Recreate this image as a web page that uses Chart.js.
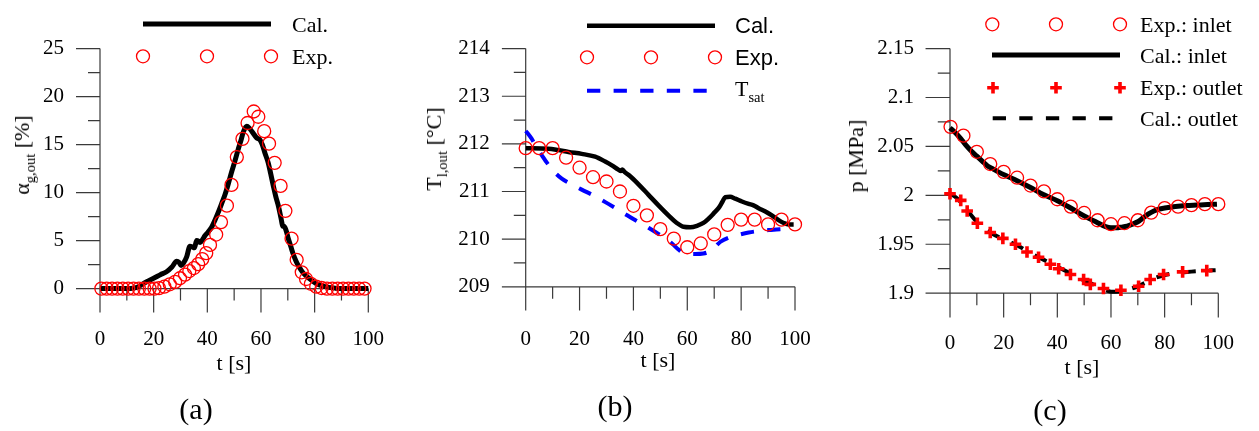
<!DOCTYPE html>
<html><head><meta charset="utf-8">
<script src="https://cdn.jsdelivr.net/npm/chart.js@4.4.1/dist/chart.umd.min.js"></script>
<style>
html,body{margin:0;padding:0;background:#fff;}
#wrap{position:relative;width:1259px;height:431px;overflow:hidden;background:#fff;}
canvas{position:absolute;top:0;}
.t{position:absolute;font-family:"Liberation Serif","Times New Roman",serif;color:#000;white-space:nowrap;line-height:1;font-size:22px;}
.c{transform:translate(-50%,-50%);}
.l{transform:translate(0,-50%);}
.r{transform:translate(-50%,-50%) rotate(-90deg);}
.sans{font-family:"Liberation Sans",Arial,sans-serif;}
.big{font-size:30px;}
.sb{font-size:0.66em;position:relative;top:0.4em;vertical-align:baseline;}
</style></head>
<body><div id="wrap">
<canvas id="ca" width="415" height="431" style="left:0px"></canvas>
<canvas id="cb" width="420" height="431" style="left:415px"></canvas>
<canvas id="cc" width="424" height="431" style="left:835px"></canvas>

<div class="t r" style="left:22px;top:155px">α<span class="sb">g,out</span> [%]</div>
<div class="t c" style="left:234px;top:363px">t [s]</div>
<div class="t c big" style="left:196px;top:409px">(a)</div>
<div class="t l" style="left:292px;top:25px">Cal.</div>
<div class="t l" style="left:292px;top:57px">Exp.</div>

<div class="t r" style="left:434px;top:149px">T<span class="sb">l,out</span> [°C]</div>
<div class="t c" style="left:658px;top:360px">t [s]</div>
<div class="t c big" style="left:615px;top:406px">(b)</div>
<div class="t l sans" style="left:735px;top:26px">Cal.</div>
<div class="t l sans" style="left:735px;top:58px">Exp.</div>
<div class="t l" style="left:735px;top:89px">T<span class="sb">sat</span></div>

<div class="t r" style="left:856px;top:156px">p [MPa]</div>
<div class="t c" style="left:1082px;top:367px">t [s]</div>
<div class="t c big" style="left:1050px;top:410px">(c)</div>
<div class="t l" style="left:1140px;top:25px">Exp.: inlet</div>
<div class="t l" style="left:1140px;top:56px">Cal.: inlet</div>
<div class="t l" style="left:1140px;top:88px">Exp.: outlet</div>
<div class="t l" style="left:1140px;top:119px">Cal.: outlet</div>
</div>
<script>
// ---------- shared x axis ----------
const tTicks = [0, 20, 40, 60, 80, 100];
const tTickLabels = ['0', '20', '40', '60', '80', '100'];
const tMinor = [10, 30, 50, 70, 90];

// ---------- panel (a): void fraction ----------
const aTicks = [0, 5, 10, 15, 20, 25];
const aTickLabels = ['0', '5', '10', '15', '20', '25'];
const aMinor = [2.5, 7.5, 12.5, 17.5, 22.5];
const aExpT = [0.5,2.5,4.5,6.5,8.5,10.5,12.5,14.5,16.5,18.5,20.3,22,24,26,28,29.8,31.7,33.3,35,36.6,38.1,39.6,41,43.3,45.1,47.3,49,51,53.1,55,57.3,59,61.2,63,65.1,67.3,69.1,71.4,73.3,75.2,76.8,78.6,80.6,82.6,84.6,86.6,88.6,90.6,92.6,94.6,96.6,98.6];
const aExpV = [0,0,0,0,0,0,0,0,0,0,0,0.05,0.2,0.45,0.7,1.08,1.46,1.83,2.14,2.55,3.07,3.7,4.55,5.63,6.93,8.64,10.8,13.7,15.6,17.25,18.45,17.9,16.4,15.1,13.1,10.7,8.1,5.2,3.0,1.7,1.0,0.5,0.2,0.06,0,0,0,0,0,0,0,0];
const aCalT = [0,5,10,12.5,14.3,16,18,20.5,22.5,24.8,26.8,28.6,29.4,30.2,31.2,32.3,33.5,34.4,35.2,36,36.7,37.3,38.2,39.1,40.3,41.6,42.8,44.1,45.4,46.6,47.8,49,50.3,51.5,52.5,53.4,54.7,55.7,56.8,58.4,59.6,60.5,61.5,62.7,63.6,64.6,65.5,66.5,67.2,67.7,68.1,68.6,69.2,70.2,71.1,72,73,73.9,75.8,78.3,80.7,83.9,87.6,90,100];
const aCalV = [0,0,0,0.05,0.2,0.5,0.8,1.15,1.45,1.75,2.25,2.85,2.75,2.4,2.7,3.3,4.4,4.35,4.25,5.0,4.95,4.8,5.1,5.5,5.9,6.4,7.1,7.96,8.9,9.8,10.9,12.1,13.3,14.5,15.4,16.3,16.9,16.7,16.3,15.7,15.5,15.0,14.1,13.1,12.0,10.7,9.6,8.6,7.7,7.0,6.5,6.5,6.2,5.2,4.4,3.6,2.9,2.4,1.6,1.0,0.5,0.2,0.05,0,0];

// ---------- panel (b): outlet liquid temperature ----------
const bTicks = [209, 210, 211, 212, 213, 214];
const bTickLabels = ['209', '210', '211', '212', '213', '214'];
const bMinor = [209.5, 210.5, 211.5, 212.5, 213.5];
const bExpT = [0,5,10,15,20,25,30,35,40,45,50,55,60,65,70,75,80,85,90,95,100];
const bExpV = [211.91,211.91,211.91,211.71,211.50,211.30,211.21,211.00,210.70,210.50,210.21,210.01,209.83,209.91,210.10,210.30,210.41,210.41,210.31,210.41,210.31];
const bCalT = [0,8.4,12.1,15.9,20.8,25.8,29.5,32,34.4,35.4,35.9,36.9,38.8,41.9,45.6,49.3,53,56.1,58.6,61.1,63.6,66,67.9,69.8,71.6,73.1,74.1,75.9,77.8,80.3,82.8,84.6,86.5,89,91.4,93.9,95.8,97.6,99.5];
const bCalV = [211.91,211.90,211.87,211.83,211.79,211.73,211.63,211.55,211.46,211.43,211.46,211.40,211.32,211.15,210.93,210.71,210.50,210.34,210.26,210.25,210.28,210.34,210.43,210.54,210.65,210.79,210.88,210.89,210.85,210.79,210.74,210.71,210.65,210.58,210.50,210.40,210.34,210.31,210.31];
const bSatT = [0,0.8,2.2,4.1,5.9,7.8,10.3,13.4,17.1,20.8,25.8,30.7,35.7,40.6,45.6,50.6,54.3,56.8,59.2,62.9,66,68.5,70.4,72.2,75.3,79,82.8,86.5,90.2,94.5,99.5];
const bSatV = [212.27,212.22,212.11,211.92,211.77,211.61,211.43,211.27,211.15,211.04,210.90,210.74,210.57,210.40,210.24,210.06,209.91,209.78,209.70,209.69,209.70,209.75,209.84,209.94,210.03,210.09,210.14,210.17,210.19,210.21,210.22];

// ---------- panel (c): pressure ----------
const cTicks = [1.9, 1.95, 2.0, 2.05, 2.1, 2.15];
const cTickLabels = ['1.9', '1.95', '2', '2.05', '2.1', '2.15'];
const cMinor = [1.925, 1.975, 2.025, 2.075, 2.125];
const cInExpT = [0.2,5,10,15,20,25,30,35,40,45,50,55,60,65,70,75,80,85,90,95,100];
const cInExpV = [2.070,2.061,2.0445,2.032,2.024,2.018,2.010,2.004,1.996,1.9885,1.982,1.9745,1.9705,1.9715,1.9745,1.9823,1.987,1.9885,1.990,1.991,1.991];
const cInCalT = [0,2,4,6,8,10,12,14,16,18,21,25,30,35,40,45,50,55,58,60,62,64,66,68,70,72,74,76,78,80,84,88,92,96,99.5];
const cInCalV = [2.069,2.064,2.058,2.051,2.045,2.040,2.035,2.030,2.027,2.024,2.020,2.015,2.008,2.0005,1.9945,1.987,1.979,1.972,1.968,1.9668,1.9668,1.9675,1.9685,1.9705,1.973,1.977,1.981,1.984,1.986,1.987,1.9885,1.9895,1.990,1.9905,1.991];
const cOutExpT = [0,4,6.4,10.2,15,19.7,24.4,28.7,33,37.4,40.5,44.9,49.8,52.3,57.2,63.7,70.3,74.6,79.6,86.7,95.7];
const cOutExpV = [2.0016,1.9948,1.984,1.9714,1.962,1.956,1.950,1.942,1.9367,1.9295,1.925,1.919,1.914,1.909,1.9047,1.903,1.907,1.914,1.919,1.9217,1.923];
const cOutCalT = [0,3,6,9,12,15,20,25,30,35,40,45,50,55,58,60,62,65,68,70,73,76,80,85,90,95,99];
const cOutCalV = [2.002,1.996,1.986,1.976,1.968,1.962,1.955,1.949,1.941,1.934,1.927,1.920,1.913,1.907,1.903,1.9015,1.9015,1.9025,1.905,1.907,1.911,1.915,1.9185,1.921,1.922,1.923,1.9235];

// ---------- helpers ----------
const RED = '#ff0000', BLUE = '#0000ff', BLACK = '#000000', AXIS = '#3a3a3a';
const SERIF = '"Liberation Serif","Times New Roman",serif';
const YW = 95, XH = 50;
const pts = (xs, ys) => xs.map((x, i) => ({x: x, y: ys[i]}));

function circles(data) {
  return {data, showLine:false, pointStyle:'circle', pointRadius:6.5, pointBorderWidth:1.3,
    pointBorderColor:RED, pointBackgroundColor:'rgba(0,0,0,0)', borderColor:RED,
    backgroundColor:'rgba(0,0,0,0)', order:0, clip:false};
}
function crosses(data) {
  return {data, showLine:false, pointStyle:'cross', pointRadius:5.8, pointBorderWidth:3.6,
    pointBorderColor:RED, pointBackgroundColor:RED, borderColor:RED, backgroundColor:RED, order:0, clip:false};
}
function line(data, color, width, dash) {
  return {data, showLine:true, pointRadius:0, borderColor:color, borderWidth:width,
    borderDash: dash || [], cubicInterpolationMode:'monotone', borderCapStyle:'butt',
    borderJoinStyle:'round', backgroundColor:'rgba(0,0,0,0)', fill:false, order:1, clip:false};
}

function axesPlugin(cfg) {
  return {
    id: 'customAxes',
    beforeDatasetsDraw(chart) {
      const ctx = chart.ctx, xs = chart.scales.x, ys = chart.scales.y, ca = chart.chartArea;
      const x0 = xs.getPixelForValue(0), x1 = xs.getPixelForValue(100);
      const yb = ys.getPixelForValue(cfg.base);
      const majorLen = ca.bottom - yb, minorLen = majorLen / 2;
      ctx.save();
      ctx.strokeStyle = AXIS; ctx.lineWidth = 1.2; ctx.setLineDash([]);
      ctx.beginPath();
      ctx.moveTo(x0, ca.top); ctx.lineTo(x0, ca.bottom);
      ctx.moveTo(x0, yb); ctx.lineTo(x1, yb);
      cfg.yMajor.forEach(v => { const y = ys.getPixelForValue(v); ctx.moveTo(x0 - majorLen, y); ctx.lineTo(x0, y); });
      cfg.yMinor.forEach(v => { const y = ys.getPixelForValue(v); ctx.moveTo(x0 - minorLen, y); ctx.lineTo(x0, y); });
      tTicks.forEach(v => { const x = xs.getPixelForValue(v); ctx.moveTo(x, yb); ctx.lineTo(x, yb + majorLen); });
      tMinor.forEach(v => { const x = xs.getPixelForValue(v); ctx.moveTo(x, yb); ctx.lineTo(x, yb + minorLen); });
      ctx.stroke();
      ctx.restore();
    },
    afterDatasetsDraw(chart) {
      const ctx = chart.ctx;
      ctx.save();
      cfg.legend.forEach(item => {
        const ds = chart.data.datasets[item.ds];
        if (item.kind === 'line') {
          ctx.strokeStyle = ds.borderColor; ctx.lineWidth = ds.borderWidth;
          ctx.setLineDash(ds.borderDash || []); ctx.lineCap = 'butt';
          ctx.beginPath(); ctx.moveTo(item.x0, item.y); ctx.lineTo(item.x1, item.y); ctx.stroke();
        } else {
          ctx.setLineDash([]);
          ctx.strokeStyle = ds.pointBorderColor; ctx.lineWidth = ds.pointBorderWidth;
          item.xs.forEach(x => {
            const r = ds.pointRadius;
            ctx.beginPath();
            if (ds.pointStyle === 'cross') {
              ctx.moveTo(x - r, item.y); ctx.lineTo(x + r, item.y);
              ctx.moveTo(x, item.y - r); ctx.lineTo(x, item.y + r);
            } else {
              ctx.arc(x, item.y, r, 0, Math.PI * 2);
            }
            ctx.stroke();
          });
        }
      });
      ctx.restore();
    }
  };
}

function makeChart(id, datasets, cfg) {
  const pad = {left: cfg.area.left - YW, right: cfg.w - cfg.area.right, top: cfg.area.top, bottom: 431 - cfg.area.bottom - XH};
  return new Chart(document.getElementById(id), {
    type: 'scatter',
    data: {datasets},
    options: {
      responsive: false, animation: false, events: [],
      layout: {padding: pad},
      plugins: {legend: {display: false}, tooltip: {enabled: false}},
      scales: {
        x: {
          type: 'linear', min: 0, max: 100,
          grid: {display: false, drawTicks: false}, border: {display: false},
          afterFit: s => { s.height = XH; },
          afterBuildTicks: s => { s.ticks = tTicks.map(v => ({value: v})); },
          ticks: {padding: cfg.xPad, color: '#000', autoSkip: false, maxRotation: 0,
            font: {family: SERIF, size: 21}, callback: (v, i) => tTickLabels[i]}
        },
        y: {
          type: 'linear', min: cfg.ymin, max: cfg.ymax,
          grid: {display: false, drawTicks: false}, border: {display: false},
          afterFit: s => { s.width = YW; },
          afterBuildTicks: s => { s.ticks = cfg.yMajor.map(v => ({value: v})); },
          ticks: {padding: 36, color: '#000', autoSkip: false,
            font: {family: SERIF, size: 21}, callback: (v, i) => cfg.yLabels[i]}
        }
      }
    },
    plugins: [axesPlugin(cfg)]
  });
}

// panel (a)
makeChart('ca', [
  circles(pts(aExpT, aExpV)),
  line(pts(aCalT, aCalV), BLACK, 5)
], {
  w: 415, area: {left: 100, right: 368.3, top: 16.7, bottom: 312.6}, xPad: 14.3,
  ymin: -2.5, ymax: 25, base: 0, yMajor: aTicks, yMinor: aMinor, yLabels: aTickLabels,
  legend: [
    {ds: 1, kind: 'line', y: 24, x0: 143, x1: 271},
    {ds: 0, kind: 'pts', y: 56.3, xs: [143, 207, 271]}
  ]
});

// panel (b)
makeChart('cb', [
  circles(pts(bExpT, bExpV)),
  line(pts(bCalT, bCalV), BLACK, 4.5),
  line(pts(bSatT, bSatV), BLUE, 4, [13.3, 13.3])
], {
  w: 420, area: {left: 110.7, right: 380, top: 15, bottom: 310.6}, xPad: 16.5,
  ymin: 208.5, ymax: 214, base: 209, yMajor: bTicks, yMinor: bMinor, yLabels: bTickLabels,
  legend: [
    {ds: 1, kind: 'line', y: 25.7, x0: 172, x1: 300},
    {ds: 0, kind: 'pts', y: 57.3, xs: [172, 236, 300]},
    {ds: 2, kind: 'line', y: 90.7, x0: 172, x1: 292.7}
  ]
});

// panel (c)
makeChart('cc', [
  circles(pts(cInExpT, cInExpV)),
  line(pts(cInCalT, cInCalV), BLACK, 5),
  crosses(pts(cOutExpT, cOutExpV)),
  line(pts(cOutCalT, cOutCalV), BLACK, 4, [13.3, 13.3])
], {
  w: 424, area: {left: 115, right: 383.3, top: 21.7, bottom: 317.6}, xPad: 13.6,
  ymin: 1.875, ymax: 2.15, base: 1.9, yMajor: cTicks, yMinor: cMinor, yLabels: cTickLabels,
  legend: [
    {ds: 0, kind: 'pts', y: 24.3, xs: [157.3, 221, 285]},
    {ds: 1, kind: 'line', y: 55, x0: 157, x1: 285},
    {ds: 2, kind: 'pts', y: 87.7, xs: [158, 221, 285]},
    {ds: 3, kind: 'line', y: 118.3, x0: 157.7, x1: 277.7}
  ]
});
</script>
</body></html>
